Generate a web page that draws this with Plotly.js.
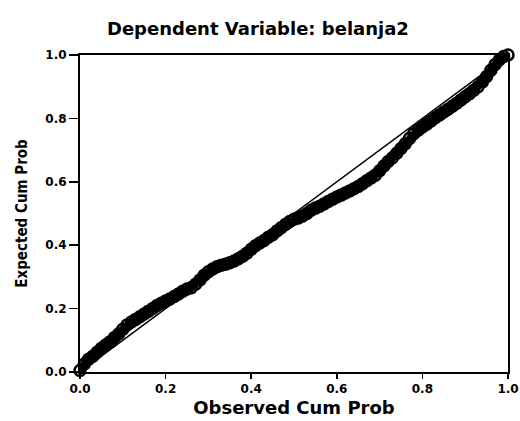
<!DOCTYPE html>
<html>
<head>
<meta charset="utf-8">
<script src="https://cdn.plot.ly/plotly-3.0.1.min.js"></script>
<style>html,body{margin:0;padding:0;background:#fff;}#chart{width:520px;height:421px;}</style>
</head>
<body>
<div id="chart"></div>
<script>
const chartTitle = "Dependent Variable: belanja2";
const xTitle = "Observed Cum Prob";
const yTitle = "Expected Cum Prob";
const tickValues = [0, 0.2, 0.4, 0.6, 0.8, 1.0];
const tickLabels = ["0.0", "0.2", "0.4", "0.6", "0.8", "1.0"];

const observedCumProb = [
  0.00, 0.01, 0.02, 0.03, 0.04, 0.05, 0.06, 0.07, 0.08, 0.09,
  0.10, 0.11, 0.12, 0.13, 0.14, 0.15, 0.16, 0.17, 0.18, 0.19,
  0.20, 0.21, 0.22, 0.23, 0.24, 0.25, 0.26, 0.27, 0.28, 0.29,
  0.30, 0.31, 0.32, 0.33, 0.34, 0.35, 0.36, 0.37, 0.38, 0.39,
  0.40, 0.41, 0.42, 0.43, 0.44, 0.45, 0.46, 0.47, 0.48, 0.49,
  0.50, 0.51, 0.52, 0.53, 0.54, 0.55, 0.56, 0.57, 0.58, 0.59,
  0.60, 0.61, 0.62, 0.63, 0.64, 0.65, 0.66, 0.67, 0.68, 0.69,
  0.70, 0.71, 0.72, 0.73, 0.74, 0.75, 0.76, 0.77, 0.78, 0.79,
  0.80, 0.81, 0.82, 0.83, 0.84, 0.85, 0.86, 0.87, 0.88, 0.89,
  0.90, 0.91, 0.92, 0.93, 0.94, 0.95, 0.96, 0.97, 0.98, 0.99, 1.00
];
const expectedCumProb = [
  0.005, 0.025, 0.040, 0.050, 0.062, 0.075, 0.085, 0.095, 0.108, 0.120,
  0.135, 0.148, 0.158, 0.166, 0.174, 0.183, 0.192, 0.200, 0.210, 0.217,
  0.224, 0.230, 0.238, 0.246, 0.255, 0.262, 0.266, 0.277, 0.290, 0.305,
  0.316, 0.325, 0.332, 0.337, 0.340, 0.345, 0.350, 0.357, 0.365, 0.375,
  0.387, 0.398, 0.407, 0.415, 0.425, 0.433, 0.445, 0.455, 0.465, 0.475,
  0.482, 0.486, 0.492, 0.500, 0.510, 0.517, 0.523, 0.530, 0.538, 0.545,
  0.552, 0.558, 0.565, 0.571, 0.578, 0.585, 0.594, 0.603, 0.612, 0.621,
  0.635, 0.650, 0.664, 0.676, 0.690, 0.705, 0.720, 0.737, 0.752, 0.763,
  0.773, 0.782, 0.792, 0.802, 0.811, 0.820, 0.829, 0.838, 0.848, 0.858,
  0.868, 0.878, 0.889, 0.900, 0.915, 0.932, 0.952, 0.970, 0.985, 0.995, 1.000
];
const refLineX = [0, 1];
const refLineY = [0, 1];

const traces = [
  {
    x: refLineX, y: refLineY, type: "scatter", mode: "lines",
    line: {color: "#000", width: 1.5}, hoverinfo: "skip", showlegend: false
  },
  {
    x: observedCumProb, y: expectedCumProb, type: "scatter", mode: "lines+markers",
    line: {color: "#000", width: 9},
    marker: {symbol: "circle-open", size: 11, color: "#000", line: {color: "#000", width: 2.5}},
    cliponaxis: false, showlegend: false
  }
];

const heavy = "DejaVu Sans, Liberation Sans, Arial, sans-serif";
const axisFont = {family: heavy, size: 12, color: "#000", weight: "bold"};

const layout = {
  width: 520, height: 421,
  margin: {l: 80, r: 12, t: 55, b: 49},
  paper_bgcolor: "#fff", plot_bgcolor: "#fff",
  showlegend: false,
  title: {
    text: chartTitle,
    font: {family: heavy, size: 18, color: "#000", weight: "bold"},
    x: 0.496, xref: "container", xanchor: "center",
    y: 0.931, yref: "container", yanchor: "middle"
  },
  xaxis: {
    range: [0, 1], tickvals: tickValues, ticktext: tickLabels,
    ticks: "outside", ticklen: 5, tickwidth: 1.5, tickcolor: "#000",
    ticklabeloverflow: "allow",
    showgrid: false, zeroline: false,
    showline: true, linecolor: "#000", linewidth: 2, mirror: true,
    tickfont: axisFont,
    title: {text: xTitle, standoff: 6,
      font: {family: heavy, size: 18, color: "#000", weight: "bold"}}
  },
  yaxis: {
    range: [0, 1], tickvals: tickValues, ticktext: tickLabels,
    ticks: "outside", ticklen: 9, tickwidth: 1.5, tickcolor: "#000",
    showgrid: false, zeroline: false,
    showline: true, linecolor: "#000", linewidth: 2, mirror: true,
    tickfont: axisFont,
    title: {text: yTitle, standoff: 14,
      font: {family: "DejaVu Sans Condensed, Liberation Sans Narrow, DejaVu Sans, sans-serif", size: 15, color: "#000", weight: "bold"}}
  }
};

Plotly.newPlot("chart", traces, layout, {displayModeBar: false, staticPlot: true});
</script>
</body>
</html>
